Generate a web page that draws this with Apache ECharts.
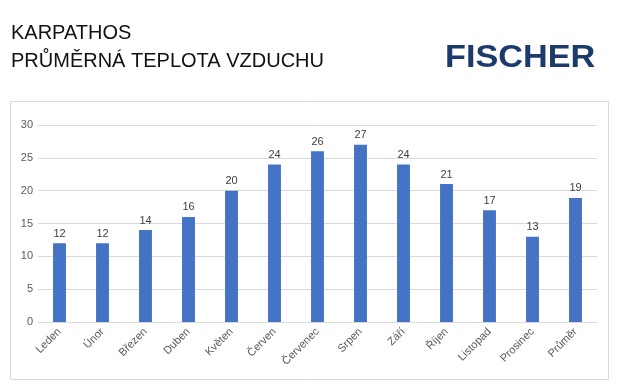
<!DOCTYPE html>
<html><head><meta charset="utf-8">
<script src="https://cdn.jsdelivr.net/npm/echarts@6/dist/echarts.min.js"></script>
<style>html,body{margin:0;padding:0;background:#fff}#c{width:619px;height:387px}</style>
</head><body><div id="c"></div>
<script>
const categories = ['Leden','Únor','Březen','Duben','Květen','Červen','Červenec','Srpen','Září','Říjen','Listopad','Prosinec','Průměr'];
const temperatures = [12,12,14,16,20,24,26,27,24,21,17,13,18.9];
const yTicks = [0,5,10,15,20,25,30];
const titleLines = ['KARPATHOS','PRŮMĚRNÁ TEPLOTA VZDUCHU'];
const brand = 'FISCHER';

const chart = echarts.init(document.getElementById('c'), null, {renderer:'canvas'});
const titleFont = '20px "Liberation Sans", Arial, sans-serif';
chart.setOption({
  animation:false,
  backgroundColor:'#fff',
  graphic:[
    {type:'rect', shape:{x:10.5,y:101.5,width:598,height:278}, style:{fill:'none',stroke:'#d9d9d9',lineWidth:1}, z:-1},
    {type:'text', x:11, y:23, style:{text:titleLines[0], font:titleFont, fill:'#111', verticalAlign:'top'}},
    {type:'text', x:11, y:51, style:{text:titleLines[1], font:titleFont, fill:'#111', verticalAlign:'top'}},
    {type:'text', x:445, y:42, scaleX:1.07, style:{text:brand, font:'bold 32px "Liberation Sans", Arial, sans-serif', fill:'#1c3a6b', verticalAlign:'top'}}
  ],
  grid:{left:38, right:22, top:125, bottom:65, containLabel:false},
  xAxis:{
    type:'category', data:categories,
    axisLine:{lineStyle:{color:'#d9d9d9'}},
    axisTick:{show:false},
    axisLabel:{rotate:45, color:'#595959', fontSize:11, fontFamily:'"Liberation Sans", sans-serif', margin:8, interval:0}
  },
  yAxis:{
    type:'value', min:yTicks[0], max:yTicks[yTicks.length-1], interval:5,
    axisLine:{show:false}, axisTick:{show:false},
    splitLine:{lineStyle:{color:'#d9d9d9'}},
    axisLabel:{color:'#595959', fontSize:11, fontFamily:'"Liberation Sans", sans-serif', margin:5}
  },
  series:[{
    type:'bar', data:temperatures, barWidth:'30%',
    itemStyle:{color:'#4472c4'},
    label:{show:true, position:'top', color:'#404040', fontSize:11, fontFamily:'"Liberation Sans", sans-serif', distance:4,
      formatter:p=>Math.round(p.value)}
  }]
});
</script></body></html>
